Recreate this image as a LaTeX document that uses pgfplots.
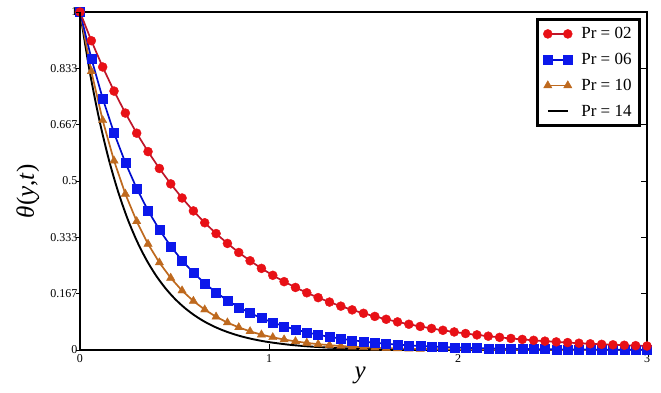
\documentclass[border=0pt]{standalone}
\usepackage{fontspec}
\setmainfont{Liberation Serif}
\usepackage{pgfplots}
\pgfplotsset{compat=1.18}
\definecolor{redm}{RGB}{232,16,22}
\definecolor{redl}{RGB}{190,22,42}
\definecolor{bluem}{RGB}{12,24,235}
\definecolor{bluel}{RGB}{0,12,205}
\definecolor{brownc}{RGB}{190,105,30}
\begin{document}
\begin{tikzpicture}
\useasboundingbox (0pt,0pt) rectangle (661pt,392pt);
\begin{axis}[
  at={(80pt,42pt)}, anchor=south west,
  width=567pt, height=338pt, scale only axis,
  xmin=0, xmax=3, ymin=0, ymax=1,
  axis line style={line width=1.3pt},
  xtick={0,1,2,3}, xticklabels={0,1,2,3},
  ytick={0,0.167,0.333,0.5,0.667,0.833,1},
  yticklabels={0,0.167,0.333,0.5,0.667,0.833,1},
  tick align=inside, xtick pos=bottom, ytick pos=right, yticklabel pos=left,
  major tick length=6pt,
  tick style={black, line width=0.8pt},
  /pgf/number format/assume math mode=true,
  ticklabel style={font=\fontsize{12}{13}\selectfont},
  xticklabel style={yshift=-1pt},
  yticklabel style={xshift=1pt},
  xlabel={\textit{y}}, ylabel={\textit{θ}(\textit{y},\textit{t})},
  xlabel style={at={(axis description cs:0.494,-0.074)}, anchor=center, font=\fontsize{25}{27}\selectfont},
  ylabel style={at={(axis description cs:-0.092,0.47)}, anchor=center, rotate=0, font=\fontsize{25}{27}\selectfont},
  legend image code/.code={\draw[#1, mark repeat=1] plot coordinates {(0pt,0pt) (20pt,0pt)};},
  reverse legend,
  legend cell align=left,
  legend style={at={(rel axis cs:1,1)}, anchor=north east, xshift=-6pt, yshift=-6pt,
    draw=black, line width=3pt, fill=white, font=\fontsize{17}{19}\selectfont,
    row sep=9pt, inner xsep=6pt, inner ysep=6pt,
    /tikz/every odd column/.append style={column sep=7pt}},
]
% Pr = 14
\addplot[black, line width=1.9pt, smooth, no markers] coordinates {
(0,1) (0.05,0.8286) (0.1,0.6866) (0.15,0.5689) (0.2,0.4714) (0.25,0.3906) (0.3,0.3237) (0.35,0.2682) (0.4,0.2222) (0.45,0.1842) (0.5,0.1526) (0.55,0.1265) (0.6,0.1048) (0.65,0.0868) (0.7,0.0719) (0.75,0.0596) (0.8,0.0494) (0.85,0.0409) (0.9,0.0339) (0.95,0.0281) (1.0,0.0233) (1.1,0.0160) (1.2,0.0110) (1.3,0.0075) (1.4,0.0052) (1.5,0.0036) (1.6,0.0024) (1.8,0.0012) (2.0,0.0005) (2.5,0.0001) (3.0,0.0000)
};
\addlegendentry{Pr = 14}
% Pr = 10
\addplot[brownc, line width=1.7pt, mark=triangle*, mark size=4.8pt, mark options={solid, line width=0.4pt, fill=brownc, draw=brownc}] coordinates {
(0,1) (0.06,0.8243) (0.12,0.6795) (0.18,0.5601) (0.24,0.4617) (0.30,0.3806) (0.36,0.3137) (0.42,0.2586) (0.48,0.2132) (0.54,0.1757) (0.60,0.1449) (0.66,0.1194) (0.72,0.0984) (0.78,0.0811) (0.84,0.0669) (0.90,0.0551) (0.96,0.0454) (1.02,0.0375) (1.08,0.0309) (1.14,0.0255) (1.20,0.0210) (1.26,0.0173) (1.32,0.0143) (1.38,0.0117) (1.44,0.0097) (1.50,0.0080) (1.56,0.0066) (1.62,0.0054) (1.68,0.0045) (1.74,0.0037) (1.80,0.0030) (1.86,0.0025) (1.92,0.0021) (1.98,0.0017) (2.04,0.0014) (2.10,0.0012) (2.16,0.0010) (2.22,0.0008) (2.28,0.0007) (2.34,0.0005) (2.40,0.0004) (2.46,0.0004) (2.52,0.0003) (2.58,0.0002) (2.64,0.0002) (2.70,0.0002) (2.76,0.0001) (2.82,0.0001) (2.88,0.0001) (2.94,0.0001) (3.00,0.0001)
};
\addlegendentry{Pr = 10}
% Pr = 06
\addplot[bluel, line width=1.7pt, mark=square*, mark size=4.5pt, mark options={solid, line width=0.4pt, fill=bluem, draw=bluem}] coordinates {
(0,1) (0.06,0.8628) (0.12,0.7444) (0.18,0.6422) (0.24,0.5541) (0.30,0.4781) (0.36,0.4125) (0.42,0.3559) (0.48,0.3070) (0.54,0.2649) (0.60,0.2286) (0.66,0.1972) (0.72,0.1701) (0.78,0.1468) (0.84,0.1266) (0.90,0.1093) (0.96,0.0943) (1.02,0.0813) (1.08,0.0702) (1.14,0.0605) (1.20,0.0522) (1.26,0.0451) (1.32,0.0389) (1.38,0.0335) (1.44,0.0289) (1.50,0.0250) (1.56,0.0215) (1.62,0.0186) (1.68,0.0160) (1.74,0.0138) (1.80,0.0119) (1.86,0.0103) (1.92,0.0089) (1.98,0.0077) (2.04,0.0066) (2.10,0.0057) (2.16,0.0049) (2.22,0.0043) (2.28,0.0037) (2.34,0.0032) (2.40,0.0027) (2.46,0.0024) (2.52,0.0020) (2.58,0.0018) (2.64,0.0015) (2.70,0.0013) (2.76,0.0011) (2.82,0.0010) (2.88,0.0008) (2.94,0.0007) (3.00,0.0006)
};
\addlegendentry{Pr = 06}
% Pr = 02
\addplot[redl, line width=1.7pt, mark=*, mark size=4.5pt, mark options={solid, line width=0.4pt, fill=redm, draw=redm}] coordinates {
(0,1) (0.06,0.9150) (0.12,0.8373) (0.18,0.7661) (0.24,0.7010) (0.30,0.6415) (0.36,0.5870) (0.42,0.5371) (0.48,0.4915) (0.54,0.4497) (0.60,0.4115) (0.66,0.3765) (0.72,0.3445) (0.78,0.3153) (0.84,0.2885) (0.90,0.2640) (0.96,0.2415) (1.02,0.2210) (1.08,0.2022) (1.14,0.1851) (1.20,0.1693) (1.26,0.1549) (1.32,0.1418) (1.38,0.1297) (1.44,0.1187) (1.50,0.1086) (1.56,0.0994) (1.62,0.0909) (1.68,0.0832) (1.74,0.0762) (1.80,0.0697) (1.86,0.0638) (1.92,0.0583) (1.98,0.0534) (2.04,0.0488) (2.10,0.0447) (2.16,0.0409) (2.22,0.0374) (2.28,0.0342) (2.34,0.0313) (2.40,0.0287) (2.46,0.0262) (2.52,0.0240) (2.58,0.0220) (2.64,0.0201) (2.70,0.0184) (2.76,0.0168) (2.82,0.0154) (2.88,0.0141) (2.94,0.0129) (3.00,0.0118)
};
\addlegendentry{Pr = 02}
\end{axis}
\begin{axis}[
  at={(80pt,42pt)}, anchor=south west,
  width=567pt, height=338pt, scale only axis,
  xmin=0, xmax=3, ymin=0, ymax=1,
  hide x axis, axis y line*=left,
  axis line style={line width=1.3pt, -},
  ytick={0,0.167,0.333,0.5,0.667,0.833,1}, yticklabels={},
  tick align=outside, major tick length=4pt,
  tick style={black, line width=0.8pt},
]
\end{axis}
\end{tikzpicture}
\end{document}
